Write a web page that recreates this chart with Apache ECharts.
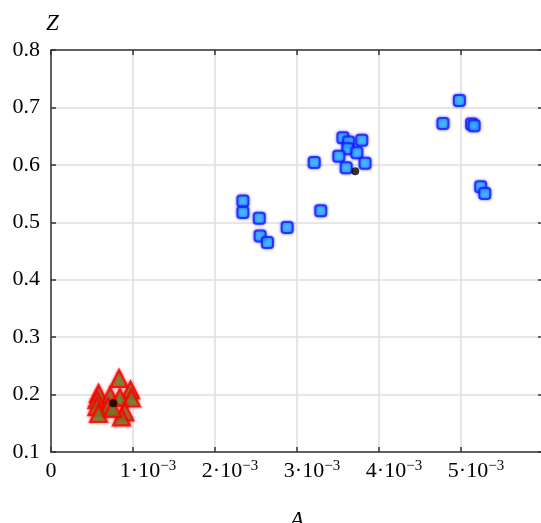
<!DOCTYPE html>
<html>
<head>
<meta charset="utf-8">
<title>Z vs A</title>
<script src="https://cdn.jsdelivr.net/npm/echarts@6/dist/echarts.min.js"></script>
<style>
  html, body { margin: 0; padding: 0; background: #fff; }
  #chart { width: 541px; height: 523px; }
</style>
</head>
<body>
<div id="chart"></div>
<script>
// Group 1: low-A cluster (triangles)
const triA = [0.83e-3, 0.97e-3, 0.58e-3, 0.72e-3, 0.84e-3, 0.98e-3, 0.56e-3, 0.56e-3, 0.70e-3, 0.58e-3, 0.90e-3, 0.86e-3, 0.75e-3];
const triZ = [0.228, 0.208, 0.202, 0.198, 0.195, 0.194, 0.191, 0.179, 0.179, 0.167, 0.170, 0.161, 0.176];

// Group 2: high-A cluster (squares)
const sqA = [2.34e-3, 2.34e-3, 2.54e-3, 2.55e-3, 2.64e-3, 2.88e-3, 3.29e-3, 3.21e-3,
             3.56e-3, 3.63e-3, 3.79e-3, 3.62e-3, 3.51e-3, 3.73e-3, 3.83e-3, 3.60e-3,
             4.98e-3, 4.78e-3, 5.13e-3, 5.16e-3, 5.24e-3, 5.29e-3];
const sqZ = [0.537, 0.517, 0.507, 0.476, 0.465, 0.491, 0.520, 0.604,
             0.647, 0.640, 0.643, 0.628, 0.615, 0.621, 0.603, 0.595,
             0.712, 0.672, 0.671, 0.668, 0.562, 0.550];

// Group centres
const centerA = [0.76e-3, 3.71e-3];
const centerZ = [0.185, 0.589];

// Axis ranges and steps
const aRange = [0, 0.006, 0.001];
const zRange = [0.1, 0.8, 0.1];

const pairs = (xs, ys) => xs.map((x, i) => [x, ys[i]]);

const serif = '"Liberation Serif", "DejaVu Serif", serif';
const axisColor = '#333';

function xLabel(v) {
  const n = Math.round(v * 1000);
  if (n === 0) return '{z|0}';
  return '{b|' + n + '·10}{s|\u22123}';
}

const chart = echarts.init(document.getElementById('chart'), null, { renderer: 'canvas' });

const baseX = {
  type: 'value',
  min: aRange[0], max: aRange[1], interval: aRange[2],
  axisLine: { show: true, onZero: false, lineStyle: { color: axisColor, width: 1.5 } },
  axisTick: { show: true, inside: true, length: 5, lineStyle: { color: axisColor, width: 1.5 } },
};
const baseY = {
  type: 'value',
  min: zRange[0], max: zRange[1], interval: zRange[2],
  axisLine: { show: true, onZero: false, lineStyle: { color: axisColor, width: 1.5 } },
  axisTick: { show: true, inside: true, length: 5, lineStyle: { color: axisColor, width: 1.5 } },
};

chart.setOption({
  animation: false,
  backgroundColor: '#fff',
  grid: { left: 51, top: 50, width: 492, height: 402, containLabel: false, outerBoundsMode: 'none' },
  xAxis: [
    Object.assign({}, baseX, {
      position: 'bottom',
      name: 'A',
      nameLocation: 'middle',
      nameGap: 57,
      nameTextStyle: { fontFamily: serif, fontStyle: 'italic', fontSize: 23, color: '#000', verticalAlign: 'top' },
      splitLine: { show: true, lineStyle: { color: '#dedede', width: 1.5 } },
      axisLabel: {
        margin: 7,
        formatter: xLabel,
        color: '#000',
        rich: {
          z: { fontFamily: serif, fontSize: 22, color: '#000', lineHeight: 24, padding: [0, 0, 0, 0] },
          b: { fontFamily: serif, fontSize: 22, color: '#000', lineHeight: 24, padding: [0, 0, 0, 30] },
          s: { fontFamily: serif, fontSize: 15, color: '#000', lineHeight: 14, verticalAlign: 'top' }
        }
      }
    }),
    Object.assign({}, baseX, {
      position: 'top',
      splitLine: { show: false },
      axisLabel: { show: false }
    })
  ],
  yAxis: [
    Object.assign({}, baseY, {
      position: 'left',
      name: 'Z',
      nameLocation: 'end',
      nameGap: 15,
      nameTextStyle: { fontFamily: serif, fontStyle: 'italic', fontSize: 23, color: '#000', align: 'center', verticalAlign: 'bottom', padding: [0, 0, 0, 3] },
      splitLine: { show: true, lineStyle: { color: '#dedede', width: 1.5 } },
      axisLabel: {
        margin: 11,
        fontFamily: serif,
        fontSize: 22,
        color: '#000',
        formatter: v => v.toFixed(1)
      }
    }),
    Object.assign({}, baseY, {
      position: 'right',
      splitLine: { show: false },
      axisLabel: { show: false }
    })
  ],
  series: [
    {
      type: 'scatter',
      data: pairs(triA, triZ),
      symbol: 'triangle',
      symbolSize: 17,
      itemStyle: {
        color: '#5e8a2c',
        borderColor: '#ff0000',
        borderWidth: 2.2,
        shadowBlur: 3,
        shadowColor: 'rgba(255,0,0,0.7)'
      },
      z: 3
    },
    {
      type: 'scatter',
      data: pairs(sqA, sqZ),
      symbol: 'roundRect',
      symbolSize: 11,
      itemStyle: {
        color: '#35c6ff',
        borderColor: '#1a1aff',
        borderWidth: 2,
        shadowBlur: 3,
        shadowColor: 'rgba(20,20,255,0.7)'
      },
      z: 3
    },
    {
      type: 'scatter',
      data: pairs(centerA, centerZ),
      symbol: 'circle',
      symbolSize: 8,
      itemStyle: { color: '#000' },
      z: 4
    }
  ]
});
</script>
</body>
</html>
